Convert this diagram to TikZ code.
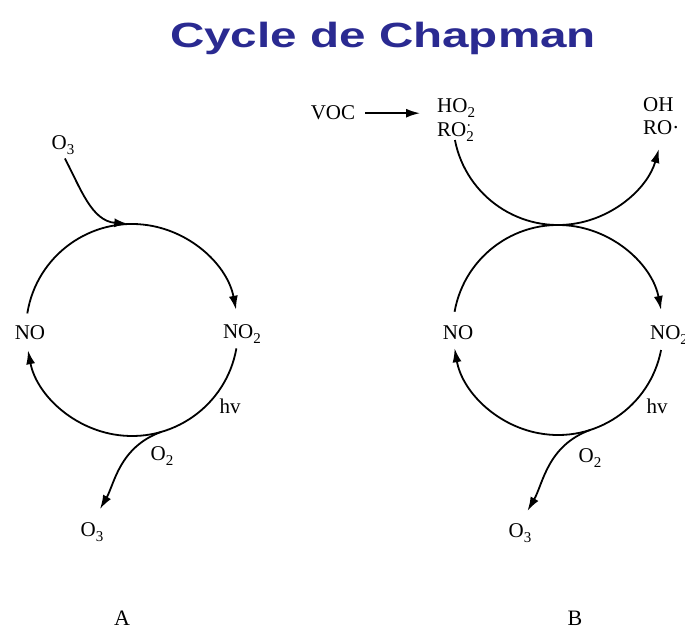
\documentclass[tikz,border=0pt]{standalone}
\usepackage{fontspec}
\setmainfont{Liberation Serif}
\newfontfamily\titlefont{Liberation Sans}
\usetikzlibrary{arrows.meta,positioning}
\definecolor{titleblue}{RGB}{42,42,145}
\newcommand\chemsub[1]{\raisebox{-0.22em}{\fontsize{15}{15}\selectfont #1}}
\newcommand\chemsup[1]{\raisebox{0.3em}{\fontsize{15}{15}\selectfont #1}}

\begin{document}
\begin{tikzpicture}[x=1pt,y=1pt,
  lbl/.style={font=\fontsize{21}{24}\selectfont,inner sep=0pt,anchor=base},
  lblw/.style={lbl,anchor=base west},
  arr/.style={-{Latex[length=14pt,width=9pt]},line width=1.8pt}]
\useasboundingbox (0,0) rectangle (685,629);
\node[font=\titlefont\bfseries\fontsize{35}{40}\selectfont,text=titleblue,xscale=1.36,anchor=base,inner sep=0pt] (title) at (383,581) {Cycle de Chapman};
\coordinate (cA) at (132,299);
\coordinate (cB) at (558,299);
\coordinate (cBt) at (558,509);
\node[lbl] (o3inA) at (63,479) {O\chemsub{3}};
\node[lbl] (noA) at (30,289) {NO};
\node[lbl] (no2A) at (242,290) {NO\chemsub{2}};
\node[lbl] (hvA) at (230,215) {hv};
\node[lbl] (o2A) at (162,168) {O\chemsub{2}};
\node[lbl] (o3outA) at (92,92) {O\chemsub{3}};
\node[lbl,font=\fontsize{22}{26}\selectfont] (labA) at (122,4) {A};
\node[lbl] (voc) at (333,509) {VOC};
\node[lblw] (hoB) at (437,516) {HO\chemsub{2}};
\node[lblw] (roB) at (437,492) {RO\rlap{\chemsup{·}}\chemsub{2}};
\node[lblw] (ohB) at (643,517) {OH};
\node[lblw] (rooB) at (643,494) {RO·};
\node[lbl] (noB) at (458,289) {NO};
\node[lbl] (no2B) at (669,289) {NO\chemsub{2}};
\node[lbl] (hvB) at (657,215) {hv};
\node[lbl] (o2B) at (590,166) {O\chemsub{2}};
\node[lbl] (o3outB) at (520,91) {O\chemsub{3}};
\node[lbl,font=\fontsize{22}{26}\selectfont] (labB) at (575,4) {B};
\coordinate (tA) at ([shift={(92:106)}]cA);
\coordinate (sA) at ([shift={(-74:106)}]cA);
\coordinate (sB) at ([shift={(-72:105)}]cB);
\draw[arr] ([shift={(171:106)}]cA) arc[start angle=171,end angle=11,radius=106];
\draw[arr] ([shift={(-10:106)}]cA) arc[start angle=-10,end angle=-169,radius=106];
\draw[arr,shorten <=4pt] (o3inA.south) to[out=-62,in=175] (tA);
\draw[arr,shorten >=16pt] (sA) to[out=200,in=60] (o3outA.north);
\draw[arr,shorten <=10pt,shorten >=17pt] (voc.east) -- (voc.east -| hoB.west);
\draw[arr] ([shift={(191:105)}]cBt) arc[start angle=191,end angle=344,radius=105];
\draw[arr] ([shift={(170:105)}]cB) arc[start angle=170,end angle=11,radius=105];
\draw[arr] ([shift={(-11:105)}]cB) arc[start angle=-11,end angle=-170,radius=105];
\draw[arr,shorten >=15pt] (sB) to[out=200,in=60] (o3outB.north);
\end{tikzpicture}
\end{document}
